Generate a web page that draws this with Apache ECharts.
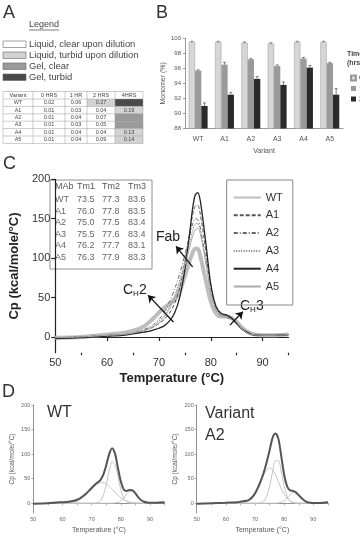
<!DOCTYPE html>
<html>
<head>
<meta charset="utf-8">
<script src="https://cdn.jsdelivr.net/npm/echarts@6.0.0/dist/echarts.min.js"></script>
<style>
  html, body { margin: 0; padding: 0; background: #fff; }
  #main { width: 360px; height: 538px; }
</style>
</head>
<body>
<div id="main"></div>
<script>
// ---- panel A : legend + turbidity table
const legendLabels = ['Liquid, clear upon dilution', 'Liquid, turbid upon dilution', 'Gel, clear', 'Gel, turbid'];
const stateFills = ['#ffffff', '#d3d3d3', '#9a9a9a', '#4a4a4a'];
const tableHeader = ['Variant', '0 HRS', '1 HR', '2 HRS', '4HRS'];
const variants = ['WT', 'A1', 'A2', 'A3', 'A4', 'A5'];
const od0 = ['0.02', '0.01', '0.01', '0.01', '0.01', '0.01'];
const od1 = ['0.06', '0.03', '0.04', '0.03', '0.04', '0.04'];
const od2 = ['0.27', '0.04', '0.07', '0.05', '0.04', '0.09'];
const od4 = ['', '0.19', '', '', '0.13', '0.14'];
// state per cell: 0 clear, 1 turbid, 2 gel clear, 3 gel turbid
const state2 = [1, 0, 0, 0, 0, 0];
const state4 = [3, 1, 2, 2, 1, 1];

// ---- panel B : monomer %
const monomer0 = [99.5, 99.5, 99.4, 99.3, 99.5, 99.5];
const monomer1 = [95.7, 96.5, 97.2, 96.3, 97.3, 96.7];
const monomer2 = [91.0, 92.5, 94.6, 93.8, 96.1, 92.5];
const err0 = [0.1, 0.1, 0.1, 0.1, 0.1, 0.1];
const err1 = [0.1, 0.3, 0.1, 0.15, 0.15, 0.1];
const err2 = [0.4, 0.3, 0.3, 0.4, 0.3, 0.8];

// ---- panel C : DSC thermograms
const tempC = [50, 55, 60, 63, 65, 67, 68, 69, 70, 71, 72, 73, 74, 75, 76, 76.5, 77, 77.5, 78, 79, 80, 81, 82, 83, 84, 85, 86, 87, 88, 90, 92, 95];
const cpWT = [-1, 0, 3, 5, 8, 13, 18, 24, 31, 37, 42, 47, 58, 77, 98, 107, 112, 112, 102, 73, 45, 30, 26, 26, 24, 19, 12, 7, 4, 2, 2, 3];
const cpA1 = [-1, 0, 2, 3, 5, 8, 10, 13, 17, 22, 30, 42, 62, 95, 135, 155, 166, 167, 155, 112, 62, 37, 29, 27, 23, 16, 10, 6, 3, 2, 2, 3];
const cpA2 = [-1, 0, 2, 3, 5, 9, 12, 16, 22, 31, 44, 60, 80, 104, 130, 143, 150, 149, 138, 100, 58, 35, 27, 25, 22, 16, 10, 5, 3, 2, 2, 3];
const cpA3 = [-1, 0, 2, 3, 5, 8, 11, 14, 20, 27, 38, 52, 72, 96, 121, 135, 143, 144, 134, 98, 57, 35, 28, 26, 22, 16, 10, 5, 3, 2, 2, 3];
const cpA4 = [-2, -1, 1, 2, 4, 6, 7, 9, 11, 14, 20, 30, 50, 85, 135, 163, 180, 183, 172, 122, 67, 39, 30, 28, 24, 17, 10, 6, 3, 2, 2, 3];
const cpA5 = [-1, 0, 2, 3, 5, 8, 10, 13, 18, 25, 35, 49, 68, 91, 115, 128, 136, 138, 130, 96, 57, 35, 28, 26, 22, 16, 10, 5, 3, 2, 2, 3];
const mabNames = ['WT', 'A1', 'A2', 'A3', 'A4', 'A5'];
const tm1 = [73.5, 76.0, 75.0, 75.5, 76.2, 76.3];
const tm2 = [77.3, 77.8, 77.5, 77.6, 77.7, 77.9];
const tm3 = [83.6, 83.5, 83.4, 83.4, 83.1, 83.3];

// ---- panel D : deconvolution
const tempD = [50, 55, 60, 62, 64, 65, 66, 67, 68, 69, 70, 71, 72, 73, 74, 75, 76, 77, 78, 79, 80, 81, 82, 83, 84, 85, 86, 87, 88, 89, 90, 92, 95];
const totalWT = [-1, 0, 2, 3, 5, 7, 10, 14, 19, 25, 31, 37, 42, 47, 58, 77, 100, 112, 101, 72, 44, 28, 25, 27, 26, 20, 12, 6, 3, 1.5, 1, 1, 2];
const totalA2 = [-1, 0, 1, 1.5, 2, 3, 4, 5, 7, 12, 20, 32, 46, 63, 84, 108, 133, 142, 131, 95, 57, 34, 26, 25, 22, 16, 10, 5, 2, 1, 0.5, 0.5, 2];
const tempComp = [58, 59, 60, 61, 62, 63, 64, 65, 66, 67, 68, 69, 70, 71, 72, 73, 74, 75, 76, 77, 78, 79, 80, 81, 82, 83, 84, 85, 86, 87, 88, 89, 90, 91, 92];
const wtPeak1 = [0, 0, 0.1, 0.3, 0.7, 1.3, 2.5, 4.4, 7.2, 11.2, 16.3, 22.3, 28.6, 34.5, 39.1, 41.7, 41.7, 39.1, 34.5, 28.6, 22.3, 16.3, 11.2, 7.2, 4.4, 2.5, 1.3, 0.7, 0.3, 0.1, 0, 0, 0, 0, 0];
const wtPeak2 = [0, 0, 0, 0, 0, 0, 0, 0, 0, 0, 0, 0, 0, 0.2, 1.2, 4.9, 15.8, 37.6, 65.5, 83.8, 78.8, 54.4, 27.6, 10.2, 2.8, 0.6, 0.1, 0, 0, 0, 0, 0, 0, 0, 0];
const wtPeak3 = [0, 0, 0, 0, 0, 0, 0, 0, 0, 0, 0, 0, 0, 0, 0, 0, 0, 0, 0, 0, 0.5, 1.8, 4.9, 10.7, 18.2, 23.9, 24.5, 19.6, 12.2, 5.9, 2.2, 0.7, 0.2, 0, 0];
const a2Peak1 = [0, 0, 0, 0, 0, 0, 0.1, 0.3, 0.8, 2.1, 4.7, 9.7, 18.0, 29.6, 43.7, 57.6, 68.1, 72, 68.1, 57.6, 43.7, 29.6, 18.0, 9.7, 4.7, 2.1, 0.8, 0.3, 0.1, 0, 0, 0, 0, 0, 0];
const a2Peak2 = [0, 0, 0, 0, 0, 0, 0, 0, 0, 0, 0, 0, 0, 0.1, 0.8, 4.0, 13.6, 34.3, 63.6, 86.6, 86.6, 63.6, 34.3, 13.6, 4.0, 0.8, 0.1, 0, 0, 0, 0, 0, 0, 0, 0];
const a2Peak3 = [0, 0, 0, 0, 0, 0, 0, 0, 0, 0, 0, 0, 0, 0, 0, 0, 0, 0, 0, 0, 0.6, 2.0, 5.2, 10.7, 17.2, 21.6, 21.0, 16.0, 9.5, 4.4, 1.6, 0.4, 0.1, 0, 0];

const tempTicks = [50, 60, 70, 80, 90];
const tempMinor = [55, 65, 75, 85, 95];
const tempTicksD = [50, 55, 60, 65, 70, 75, 80, 85, 90, 95];
const cpTicks = [0, 50, 100, 150, 200];

const pair = (xs, ys) => xs.map((x, i) => [x, ys[i]]);

var myChart = echarts.init(document.getElementById('main'));

// panel A drawn as graphic elements
const g = [];
const letter = (t, x, y) => ({ type: 'text', x: x, y: y, style: { text: t, fontSize: 18, fill: '#333', verticalAlign: 'middle' } });
g.push(letter('A', 3, 13), letter('B', 156, 13), letter('C', 3, 164), letter('D', 2, 392));
g.push({ type: 'text', x: 29, y: 25, style: { text: 'Legend', fontSize: 9, fill: '#444', verticalAlign: 'middle' } });
g.push({ type: 'line', shape: { x1: 29, y1: 30, x2: 59, y2: 30 }, style: { stroke: '#444', lineWidth: 0.7 } });
legendLabels.forEach(function (t, i) {
  g.push({ type: 'rect', shape: { x: 3, y: 41 + i * 11, width: 23, height: 6.5 }, style: { fill: stateFills[i], stroke: '#666', lineWidth: 0.6 } });
  g.push({ type: 'text', x: 29, y: 44.5 + i * 11, style: { text: t, fontSize: 9.4, fill: '#444', verticalAlign: 'middle' } });
});
const colX = [3, 33, 65, 87, 115, 143];
const rowTop = 99, rowH = 7.4, headTop = 91.5;
tableHeader.forEach(function (t, j) {
  g.push({ type: 'text', x: (colX[j] + colX[j + 1]) / 2, y: (headTop + rowTop) / 2, style: { text: t, fontSize: 5.5, fill: '#444', align: 'center', verticalAlign: 'middle' } });
});
variants.forEach(function (v, i) {
  const y = rowTop + i * rowH;
  const cells = [v, od0[i], od1[i], od2[i], od4[i]];
  const fills = [0, 0, 0, state2[i], state4[i]];
  cells.forEach(function (t, j) {
    if (fills[j]) {
      g.push({ type: 'rect', shape: { x: colX[j], y: y, width: colX[j + 1] - colX[j], height: rowH }, style: { fill: stateFills[fills[j]] } });
    }
    g.push({ type: 'text', x: (colX[j] + colX[j + 1]) / 2, y: y + rowH / 2, style: { text: t, fontSize: 5.5, fill: '#444', align: 'center', verticalAlign: 'middle' } });
  });
});
for (let i = 0; i <= variants.length + 1; i++) {
  const y = i === 0 ? headTop : rowTop + (i - 1) * rowH;
  g.push({ type: 'line', shape: { x1: colX[0], y1: y, x2: colX[5], y2: y }, style: { stroke: '#999', lineWidth: 0.5 } });
}
colX.forEach(function (x) {
  g.push({ type: 'line', shape: { x1: x, y1: headTop, x2: x, y2: rowTop + variants.length * rowH }, style: { stroke: '#999', lineWidth: 0.5 } });
});

// panel B legend title
g.push({ type: 'text', x: 347, y: 50, style: { text: 'Time\n(hrs)', fontSize: 7, fontWeight: 'bold', fill: '#444', lineHeight: 9 } });

// panel C Tm table
g.push({ type: 'rect', shape: { x: 50, y: 180, width: 102, height: 89 }, style: { fill: '#fff', stroke: '#777', lineWidth: 0.8 } });
const tmX = [55, 77, 102, 128];
['MAb', 'Tm1', 'Tm2', 'Tm3'].forEach(function (t, j) {
  g.push({ type: 'text', x: tmX[j], y: 187, style: { text: t, fontSize: 9, fill: '#555', verticalAlign: 'middle' } });
});
mabNames.forEach(function (m, i) {
  const y = 200 + i * 11.5;
  [m, tm1[i].toFixed(1), tm2[i].toFixed(1), tm3[i].toFixed(1)].forEach(function (t, j) {
    g.push({ type: 'text', x: tmX[j], y: y, style: { text: t, fontSize: 9, fill: '#666', verticalAlign: 'middle' } });
  });
});
// C annotations
const sub = { b: { fontSize: 14, fill: '#222', lineHeight: 16 }, s: { fontSize: 8, fill: '#222', lineHeight: 8, verticalAlign: 'bottom' } };
g.push({ type: 'text', x: 156, y: 237, style: { text: 'Fab', fontSize: 14, fill: '#222', verticalAlign: 'middle' } });
g.push({ type: 'text', x: 123, y: 282, style: { text: '{b|C}{s|H}{b|2}', rich: sub } });
g.push({ type: 'text', x: 240, y: 298, style: { text: '{b|C}{s|H}{b|3}', rich: sub } });
// D labels
g.push({ type: 'text', x: 47, y: 413, style: { text: 'WT', fontSize: 16, fill: '#333', verticalAlign: 'middle' } });
g.push({ type: 'text', x: 205, y: 414, style: { text: 'Variant', fontSize: 16, fill: '#333', verticalAlign: 'middle' } });
g.push({ type: 'text', x: 205, y: 436, style: { text: 'A2', fontSize: 16, fill: '#333', verticalAlign: 'middle' } });

function errorBar(offset) {
  return function (params, api) {
    const base = api.coord([api.value(0), api.value(1)]);
    const top = api.coord([api.value(0), api.value(1) + api.value(2)]);
    const x = base[0] + offset;
    return {
      type: 'group',
      children: [
        { type: 'line', shape: { x1: x, y1: base[1], x2: x, y2: top[1] }, style: { stroke: '#333', lineWidth: 0.6 } },
        { type: 'line', shape: { x1: x - 1.5, y1: top[1], x2: x + 1.5, y2: top[1] }, style: { stroke: '#333', lineWidth: 0.6 } }
      ]
    };
  };
}
const barW = 6.3;
const barSeries = [[monomer0, err0, '#d6d6d6'], [monomer1, err1, '#9a9a9a'], [monomer2, err2, '#2a2a2a']];
const series = [];
barSeries.forEach(function (b, k) {
  series.push({
    name: String(k), type: 'bar', xAxisIndex: 0, yAxisIndex: 0, data: b[0], barWidth: barW, barGap: '0%',
    itemStyle: { color: b[2], borderColor: k === 0 ? '#999' : b[2], borderWidth: k === 0 ? 0.5 : 0 }
  });
});
barSeries.forEach(function (b, k) {
  series.push({
    type: 'custom', xAxisIndex: 0, yAxisIndex: 0, renderItem: errorBar((k - 1) * barW),
    data: variants.map((v, i) => [i, b[0][i], b[1][i]]), encode: { x: 0, y: 1 }, z: 5
  });
});

const arrowLine = { color: '#111', width: 1.3, type: 'solid' };
const lineDefs = [
  ['WT', cpWT, { color: '#bdbdbd', width: 4 }],
  ['A1', cpA1, { color: '#555', width: 1, type: [4, 2] }],
  ['A2', cpA2, { color: '#666', width: 1, type: [4, 2, 1, 2] }],
  ['A3', cpA3, { color: '#777', width: 1, type: [1, 1.5] }],
  ['A4', cpA4, { color: '#222', width: 1.3 }],
  ['A5', cpA5, { color: '#aaa', width: 1 }]
];
lineDefs.forEach(function (d) {
  const s = {
    name: d[0], type: 'line', xAxisIndex: 1, yAxisIndex: 1, data: pair(tempC, d[1]),
    symbol: 'none', smooth: 0.3, lineStyle: d[2], itemStyle: { color: d[2].color }
  };
  if (d[0] === 'A4') {
    s.markLine = {
      silent: true, symbol: ['none', 'arrow'], symbolSize: 7, lineStyle: arrowLine, label: { show: false },
      data: [
        [{ coord: [76.5, 89] }, { coord: [73.3, 115] }],
        [{ coord: [72.8, 19] }, { coord: [67.9, 53] }],
        [{ coord: [83.7, 15] }, { coord: [86.2, 32] }]
      ]
    };
  }
  series.push(s);
});

const dLine = (name, xi, yi, xs, ys, total) => ({
  name: name, type: 'line', xAxisIndex: xi, yAxisIndex: yi, data: pair(xs, ys), symbol: 'none', smooth: 0.3,
  lineStyle: total ? { color: '#555', width: 2 } : { color: '#c4c4c4', width: 1 }, z: total ? 3 : 2
});
series.push(
  dLine('WT p1', 3, 2, tempComp, wtPeak1), dLine('WT p2', 3, 2, tempComp, wtPeak2), dLine('WT p3', 3, 2, tempComp, wtPeak3),
  dLine('WT total', 3, 2, tempD, totalWT, true),
  dLine('A2 p1', 4, 3, tempComp, a2Peak1), dLine('A2 p2', 4, 3, tempComp, a2Peak2), dLine('A2 p3', 4, 3, tempComp, a2Peak3),
  dLine('A2 total', 4, 3, tempD, totalA2, true)
);

const smallAxis = (grid, isX) => ({
  type: 'value', gridIndex: grid, min: isX ? 50 : -20, max: isX ? 95 : 200,
  axisLine: { show: true, lineStyle: { color: '#777', width: 0.8 } },
  axisTick: { length: 2, customValues: isX ? tempTicksD : cpTicks, lineStyle: { color: '#777', width: 0.6 } },
  axisLabel: { customValues: isX ? tempTicks : cpTicks, fontSize: 5.5, color: '#666', margin: 3 },
  splitLine: { show: false },
  name: isX ? 'Temperature (°C)' : 'Cp (kcal/mole/°C)', nameLocation: 'middle', nameGap: isX ? 14 : 18,
  nameTextStyle: { fontSize: isX ? 7 : 6.5, color: '#555' }
});

myChart.setOption({
  animation: false,
  textStyle: { fontFamily: 'Liberation Sans, Arial, sans-serif' },
  grid: [
    { left: 185, top: 38.3, width: 158, height: 90.2 },
    { left: 45.5, top: 179.3, width: 243, height: 173.4 },
    { left: 33.3, top: 405, width: 131.3, height: 108 },
    { left: 196.7, top: 405, width: 131.3, height: 108 }
  ],
  xAxis: [
    {
      type: 'category', gridIndex: 0, data: variants, axisTick: { show: false },
      axisLine: { lineStyle: { color: '#999' } }, axisLabel: { fontSize: 7, color: '#555', margin: 7 },
      name: 'Variant', nameLocation: 'middle', nameGap: 19, nameTextStyle: { fontSize: 7, color: '#555' }
    },
    {
      type: 'value', gridIndex: 1, min: 50, max: 95, position: 'bottom',
      axisLine: { lineStyle: { color: '#222', width: 1.2 } },
      axisTick: { customValues: tempTicks, length: 4, lineStyle: { color: '#222', width: 1.2 } },
      axisLabel: { customValues: tempTicks, fontSize: 11, color: '#333', margin: 5 },
      splitLine: { show: false },
      name: 'Temperature (°C)', nameLocation: 'middle', nameGap: 19,
      nameTextStyle: { fontSize: 13, fontWeight: 'bold', color: '#222' }
    },
    {
      type: 'value', gridIndex: 1, min: 50, max: 95, position: 'bottom',
      axisLine: { show: false }, axisLabel: { show: false }, splitLine: { show: false },
      axisTick: { customValues: tempMinor, length: 2.5, lineStyle: { color: '#222', width: 1.2 } }
    },
    smallAxis(2, true),
    smallAxis(3, true)
  ],
  yAxis: [
    {
      type: 'value', gridIndex: 0, min: 88, max: 100, interval: 2,
      axisLine: { show: true, lineStyle: { color: '#999' } }, axisTick: { show: true, length: 2, lineStyle: { color: '#999' } },
      axisLabel: { fontSize: 6, color: '#555', margin: 4 }, splitLine: { show: false },
      name: 'Monomer (%)', nameLocation: 'middle', nameGap: 18, nameTextStyle: { fontSize: 7, color: '#555' }
    },
    {
      type: 'value', gridIndex: 1, min: -20, max: 200,
      axisLine: { show: true, lineStyle: { color: '#222', width: 1.2 } },
      axisTick: { show: true, customValues: cpTicks, length: 4, lineStyle: { color: '#222', width: 1.2 } },
      axisLabel: { customValues: cpTicks, fontSize: 11, color: '#333', margin: 5 },
      splitLine: { show: false },
      name: 'Cp (kcal/mole/°C)', nameLocation: 'middle', nameGap: 27,
      nameTextStyle: { fontSize: 13, fontWeight: 'bold', color: '#222' }
    },
    smallAxis(2, false),
    smallAxis(3, false)
  ],
  legend: [
    {
      data: ['0', '1', '2'], orient: 'vertical', left: 345, top: 69, icon: 'rect',
      itemWidth: 5, itemHeight: 5, itemGap: 2.5, textStyle: { fontSize: 8, color: '#444', padding: [0, 0, 0, -2] }
    },
    {
      data: ['WT', 'A1', 'A2', 'A3', 'A4', 'A5'], orient: 'vertical', left: 226.7, top: 180,
      padding: [12, 10, 13, 6], itemWidth: 27, itemHeight: 8, itemGap: 6.8,
      itemStyle: { opacity: 0 },
      borderColor: '#888', borderWidth: 1, textStyle: { fontSize: 11, color: '#333' }
    }
  ],
  graphic: g,
  series: series
});
</script>
</body>
</html>
